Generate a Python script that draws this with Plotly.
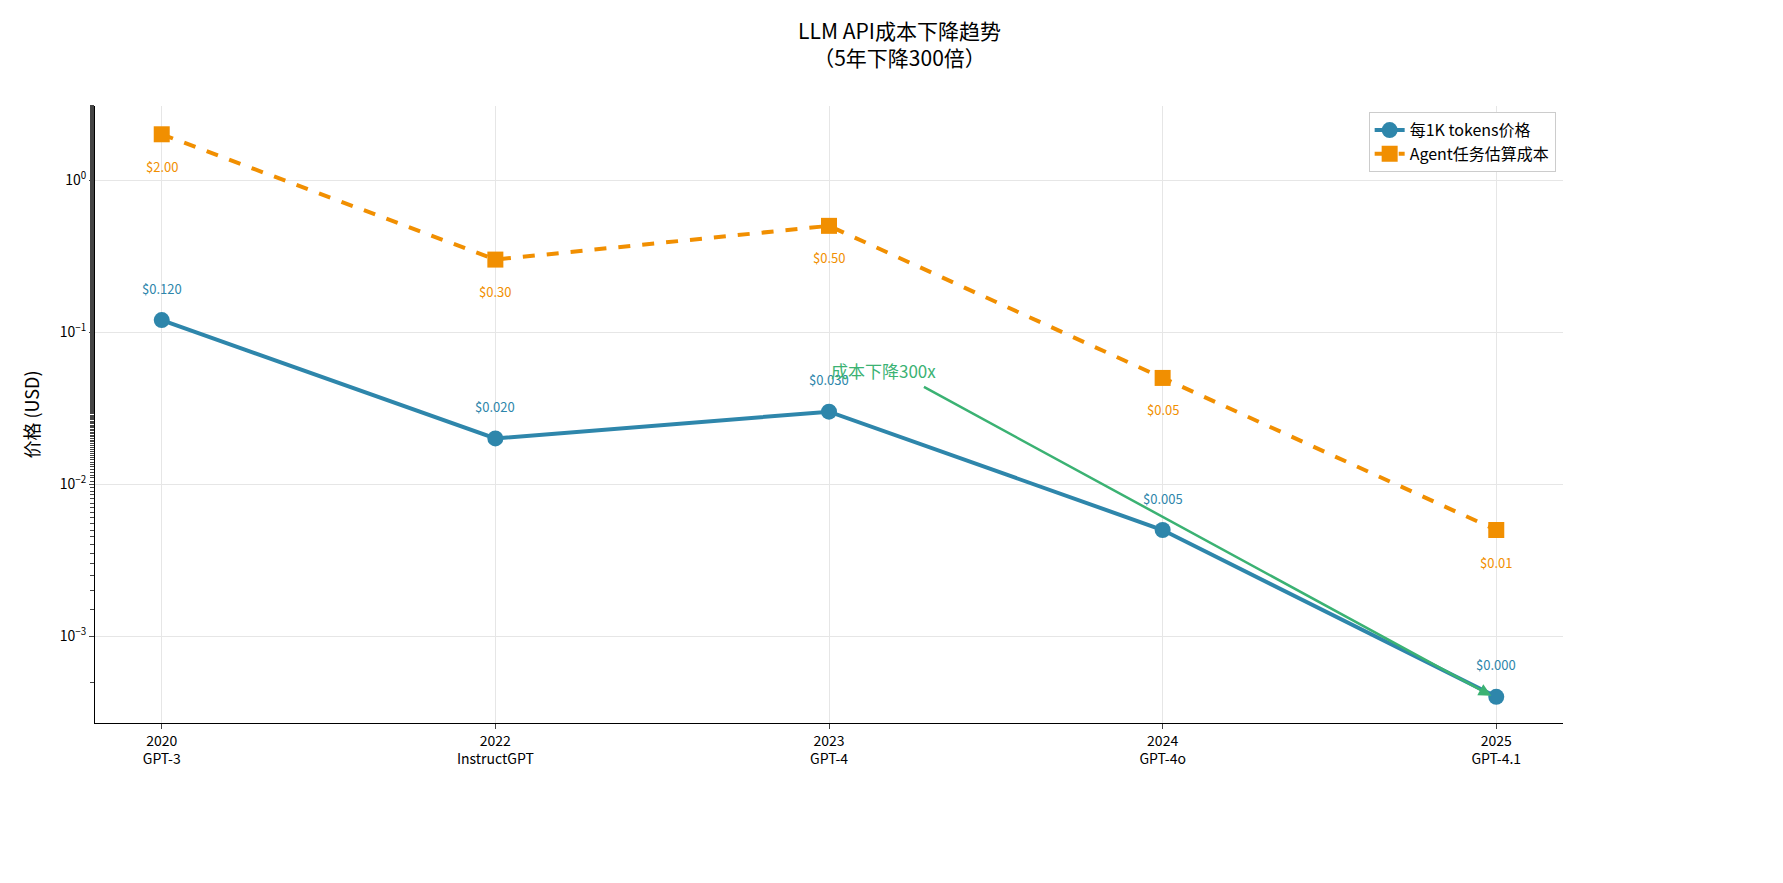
import math

import plotly.graph_objects as go

years = ["2020", "2022", "2023", "2024", "2025"]
models = ["GPT-3", "InstructGPT", "GPT-4", "GPT-4o", "GPT-4.1"]
price_per_1k = [0.12, 0.02, 0.03, 0.005, 0.0004]
agent_cost = [2.0, 0.3, 0.5, 0.05, 0.005]

BLUE = "#2E86AB"
ORANGE = "#F18F01"
GREEN = "#3BB273"
FONT = "Noto Sans CJK SC, DejaVu Sans Mono, sans-serif"

x = list(range(len(years)))
ticktext = [f"{y}<br>{m}" for y, m in zip(years, models)]

fig = go.Figure()
fig.add_trace(go.Scatter(
    x=x, y=price_per_1k, mode="lines+markers", name="每1K tokens价格",
    line=dict(color=BLUE, width=4), marker=dict(size=16, color=BLUE),
))
fig.add_trace(go.Scatter(
    x=x, y=agent_cost, mode="lines+markers", name="Agent任务估算成本",
    line=dict(color=ORANGE, width=4, dash="dash"), marker=dict(size=16, color=ORANGE, symbol="square"),
))

annotations = []
for i, v in enumerate(price_per_1k):
    annotations.append(dict(x=i, y=math.log10(v), yref="y", text=f"${v:.3f}", showarrow=False,
                            yshift=32, font=dict(color=BLUE, size=13, family=FONT)))
for i, v in enumerate(agent_cost):
    annotations.append(dict(x=i, y=math.log10(v), yref="y", text=f"${v:.2f}", showarrow=False,
                            yshift=-32, font=dict(color=ORANGE, size=13, family=FONT)))

# arrow showing 300x drop
annotations.append(dict(x=3.985, y=-3.39, ax=2.28, ay=-1.355, xref="x", yref="y",
                        axref="x", ayref="y", text="", showarrow=True,
                        arrowhead=2, arrowsize=1, arrowwidth=2.5, arrowcolor=GREEN))
annotations.append(dict(x=2.0, y=-1.25, xanchor="left", text="成本下降300x", showarrow=False,
                        font=dict(color=GREEN, size=17, family=FONT)))

fig.update_layout(
    width=1783, height=883,
    paper_bgcolor="white", plot_bgcolor="white",
    font=dict(family=FONT, color="black", size=14),
    title=dict(text="LLM API成本下降趋势<br>（5年下降300倍）", x=0.5, xanchor="center",
               y=0.965, font=dict(size=21)),
    margin=dict(l=87, r=228, t=98, b=168),
    annotations=annotations,
    legend=dict(x=0.995, y=0.99, xanchor="right", yanchor="top", bgcolor="white",
                bordercolor="#cccccc", borderwidth=1, font=dict(size=16)),
    showlegend=True,
)
fig.update_xaxes(
    tickvals=x, ticktext=ticktext, range=[-0.2, 4.2],
    showgrid=True, gridcolor="#e6e6e6", showline=True, linecolor="black",
    ticks="outside", tickfont=dict(size=14), zeroline=False,
)
fig.update_yaxes(
    type="log", range=[-3.57, 0.487],
    tickvals=[1, 0.1, 0.01, 0.001],
    ticktext=["10<sup>0</sup>", "10<sup>−1</sup>", "10<sup>−2</sup>", "10<sup>−3</sup>"],
    showgrid=True, gridcolor="#e6e6e6", showline=True, linecolor="black",
    ticks="outside", minor=dict(ticks="outside", ticklen=4, showgrid=False),
    title=dict(text="价格 (USD)", font=dict(size=18)), zeroline=False,
)

fig.write_html("out.html")
